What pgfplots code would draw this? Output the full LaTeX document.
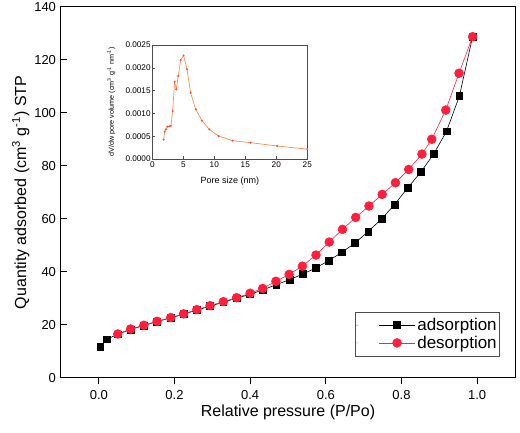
\documentclass[border=0pt]{standalone}
\usepackage{pgfplots}
\pgfplotsset{compat=1.18}
\usepackage{fontspec}
\setmainfont{Liberation Sans}
\definecolor{desred}{RGB}{255,30,60}
\definecolor{insetor}{RGB}{255,140,80}
\definecolor{insetdot}{RGB}{240,80,60}
\begin{document}
\begin{tikzpicture}
\begin{axis}[
  at={(0pt,0pt)}, anchor=south west,
  scale only axis, width=454pt, height=371pt,
  xmin=-0.1, xmax=1.1, ymin=0, ymax=140,
  xtick={0,0.2,0.4,0.6,0.8,1.0},
  ytick={0,20,40,60,80,100,120,140},
  xtick pos=bottom, ytick pos=left,
  tick align=outside,
  major tick length=6.5pt,
  y tick style={xshift=6.5pt},
  axis line style={line width=1pt},
  every tick/.style={line width=1pt,black},
  /pgf/number format/assume math mode=true,
  xticklabel style={/pgf/number format/fixed,/pgf/number format/precision=1,/pgf/number format/zerofill},
  ticklabel style={font=\fontsize{13}{15}\selectfont},
  yticklabel style={xshift=5pt},
  xticklabel style={yshift=-2pt},
  xlabel={Relative pressure (P/Po)},
  ylabel={Quantity adsorbed (cm\textsuperscript{3} g\textsuperscript{-1}) STP},
  label style={font=\fontsize{16}{19}\selectfont},
  xlabel style={yshift=1pt},
  ylabel style={yshift=-2pt},
  legend style={at={(0.967,0.059)}, anchor=south east, font=\fontsize{17}{20}\selectfont,
    draw=black!70, line width=0.6pt, inner xsep=1pt, inner ysep=4pt, row sep=0pt, cells={anchor=west}},
  legend image code/.code={\path (-22pt,0pt) circle (0.1pt); \draw[mark repeat=2,mark phase=2] plot coordinates {(0pt,0pt) (18pt,0pt) (36pt,0pt)};},
]
\addplot[black, line width=0.6pt, mark=square*, mark size=3.4pt, mark options={solid,fill=black}] coordinates {
(0.004,11.7) (0.021,14.6) (0.05,16.5) (0.084,18.3) (0.119,19.8) (0.154,21.3) (0.19,22.7) (0.224,24.1)
(0.259,25.6) (0.294,27.1) (0.329,28.6) (0.364,30.1) (0.40,31.6) (0.434,33.3) (0.469,35.2) (0.504,37.1)
(0.539,39.2) (0.573,41.5) (0.608,44.3) (0.642,47.4) (0.677,50.9) (0.712,55.3) (0.748,60.1) (0.782,65.5)
(0.816,71.7) (0.851,77.7) (0.885,84.5) (0.919,93.1) (0.953,106.4) (0.988,128.8)
};
\addlegendentry{adsorption}
\addplot[desred, line width=0.6pt, mark=*, mark size=4.4pt, mark options={solid,fill=desred,draw=desred}] coordinates {
(0.988,128.8) (0.952,115.0) (0.917,101.1) (0.88,90.1) (0.854,84.5) (0.819,78.7) (0.784,73.7) (0.749,69.3)
(0.714,64.9) (0.679,60.6) (0.644,56.1) (0.609,51.3) (0.574,46.4) (0.538,42.2) (0.503,39.1) (0.468,36.5)
(0.433,33.8) (0.40,32.0) (0.364,30.3) (0.329,28.8) (0.294,27.3) (0.259,25.8) (0.224,24.2) (0.19,22.8)
(0.154,21.4) (0.119,19.9) (0.084,18.5) (0.05,16.6)
};
\addlegendentry{desorption}
\end{axis}
\begin{axis}[
  at={(91.3pt,219pt)}, anchor=south west,
  scale only axis, width=155pt, height=114pt,
  xmin=0, xmax=25, ymin=0, ymax=0.0025,
  xtick={0,5,10,15,20,25},
  ytick={0,0.0005,0.001,0.0015,0.002,0.0025},
  scaled y ticks=false,
  xtick pos=bottom, ytick pos=left,
  tick align=inside, major tick length=2.5pt,
  axis line style={draw=black!70, line width=0.6pt},
  every tick/.style={black!70, line width=0.5pt},
  /pgf/number format/assume math mode=true,
  yticklabel style={/pgf/number format/fixed,/pgf/number format/precision=4,/pgf/number format/zerofill},
  ticklabel style={font=\fontsize{8.2}{10}\selectfont, inner sep=1.5pt},
  xticklabel style={yshift=-1pt},
  xlabel={Pore size (nm)},
  ylabel={dV/dw pore volume (cm\textsuperscript{3} g\textsuperscript{-1} nm\textsuperscript{-1})},
  xlabel style={font=\fontsize{9}{11}\selectfont, yshift=-4pt},
  ylabel style={font=\fontsize{7.2}{9}\selectfont, yshift=5pt},
]
\addplot[insetor, line width=0.7pt, mark=*, mark size=0.6pt, mark options={fill=insetdot,draw=insetdot}] coordinates {
(1.83,0.000424) (1.99,0.000600) (2.2,0.00065) (2.42,0.00071) (2.74,0.000716) (3.0,0.000724)
(3.28,0.00105) (3.6,0.00169) (3.87,0.00153) (4.19,0.00182) (4.57,0.00217) (5.05,0.00227)
(5.6,0.00197) (6.18,0.00145) (7.0,0.00109) (8.0,0.00084) (9.2,0.00065) (10.7,0.000502)
(12.96,0.000402) (15.86,0.000358) (20.16,0.000285) (25.0,0.000215)
};
\end{axis}
\pgfresetboundingbox
\path[use as bounding box] (-61pt,-55pt) rectangle (459pt,378pt);
\end{tikzpicture}
\end{document}
